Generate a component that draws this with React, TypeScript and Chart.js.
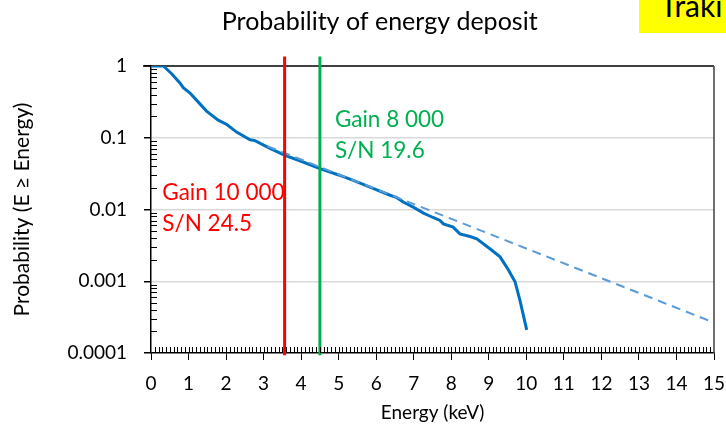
import React, { useEffect, useRef } from "react";
import { Chart, registerables } from "chart.js";

Chart.register(...registerables);

// Measured curve: P(E >= Energy)
const ENERGY_KEV = [0, 0.33, 0.55, 0.77, 0.86, 1.04, 1.2, 1.48, 1.79, 2.02, 2.28, 2.64, 2.77, 3.17, 3.57, 4.0, 4.5, 5.0, 5.39, 5.9, 6.37, 6.55, 6.72, 7.0, 7.26, 7.5, 7.7, 7.79, 8.05, 8.23, 8.5, 8.68, 9.03, 9.3, 9.52, 9.7, 9.83, 10.01];
const PROBABILITY = [1, 1, 0.78, 0.58, 0.5, 0.42, 0.34, 0.235, 0.176, 0.153, 0.12, 0.0938, 0.0912, 0.0713, 0.0568, 0.047, 0.0372, 0.0303, 0.0254, 0.0198, 0.0158, 0.0146, 0.0127, 0.0107, 0.0089, 0.0078, 0.00705, 0.0063, 0.00569, 0.00457, 0.0042, 0.00389, 0.00284, 0.00219, 0.00145, 0.00098, 0.00054, 0.00021];

// Exponential fit (dashed)
const FIT_KEV = [3.1, 15];
const FIT_PROBABILITY = [0.0762, 0.000265];

// Threshold markers
const THRESHOLD_KEV = [3.56, 4.5];
const THRESHOLD_COLORS = ["#FF0000", "#00B050"];
const THRESHOLD_SPAN = [1.36, 0.000093];

// Annotations
const NOTE_KEV = [0.3, 4.9];
const NOTE_LINE1_P = [0.0134, 0.139];
const NOTE_LINE2_P = [0.00495, 0.0515];
const NOTE_LINES = [
  ["Gain 10 000", "S/N 24.5"],
  ["Gain 8 000", "S/N 19.6"],
];

const TITLE = "Probability of energy deposit";
const X_TITLE = "Energy (keV)";
const Y_TITLE = "Probability (E ≥ Energy)";

const X_MIN = 0;
const X_MAX = 15;
const Y_TICK_VALUES = [0.0001, 0.001, 0.01, 0.1, 1];
const Y_TICK_LABELS = ["0.0001", "0.001", "0.01", "0.1", "1"];

const FONT = "Lato";

const framePlugin = {
  id: "frameAndMinor",
  beforeDatasetsDraw(chart: any) {
    const { ctx, chartArea } = chart;
    ctx.save();
    ctx.lineWidth = 1.5;
    ctx.strokeStyle = "#000";
    ctx.beginPath();
    ctx.moveTo(chartArea.left - 8, chartArea.top);
    ctx.lineTo(chartArea.right, chartArea.top);
    ctx.stroke();
    ctx.strokeStyle = "#404040";
    ctx.beginPath();
    ctx.moveTo(chartArea.right, chartArea.top);
    ctx.lineTo(chartArea.right, chartArea.bottom);
    ctx.stroke();
    ctx.restore();
  },
  afterDraw(chart: any) {
    const { ctx, chartArea, scales } = chart;
    const x = scales.x;
    const y = scales.y;
    ctx.save();
    ctx.strokeStyle = "#000";
    ctx.lineWidth = 1;
    ctx.beginPath();
    for (let i = 1; i < (X_MAX - X_MIN) * 10; i++) {
      const px = Math.round(x.getPixelForValue(X_MIN + i / 10)) + 0.5;
      ctx.moveTo(px, chartArea.bottom);
      ctx.lineTo(px, chartArea.bottom - 6);
    }
    for (let d = 0; d < Y_TICK_VALUES.length - 1; d++) {
      for (let m = 2; m <= 9; m++) {
        const py = Math.round(y.getPixelForValue(Y_TICK_VALUES[d] * m)) + 0.5;
        ctx.moveTo(chartArea.left, py);
        ctx.lineTo(chartArea.left + 6, py);
      }
    }
    ctx.stroke();
    // chart title
    ctx.fillStyle = "#000";
    ctx.font = `25px ${FONT}`;
    ctx.textAlign = "center";
    ctx.textBaseline = "middle";
    ctx.fillText(TITLE, chart.width * 0.523, 22);
    ctx.restore();
  },
  afterDatasetsDraw(chart: any) {
    const { ctx, scales } = chart;
    ctx.save();
    ctx.font = `22.5px ${FONT}`;
    ctx.textBaseline = "alphabetic";
    ctx.textAlign = "left";
    NOTE_LINES.forEach((lines, i) => {
      ctx.fillStyle = THRESHOLD_COLORS[i];
      const px = scales.x.getPixelForValue(NOTE_KEV[i]);
      ctx.fillText(lines[0], px, scales.y.getPixelForValue(NOTE_LINE1_P[i]));
      ctx.fillText(lines[1], px, scales.y.getPixelForValue(NOTE_LINE2_P[i]));
    });
    ctx.restore();
  },
};

export default function App() {
  const canvasRef = useRef<HTMLCanvasElement | null>(null);

  useEffect(() => {
    if (!canvasRef.current) return;
    const curve = ENERGY_KEV.map((e, i) => ({ x: e, y: PROBABILITY[i] }));
    const fit = FIT_KEV.map((e, i) => ({ x: e, y: FIT_PROBABILITY[i] }));
    const markers = THRESHOLD_KEV.map((e, i) => ({
      type: "line" as const,
      data: THRESHOLD_SPAN.map((p) => ({ x: e, y: p })),
      borderColor: THRESHOLD_COLORS[i],
      borderWidth: 3,
      pointRadius: 0,
      clip: false as any,
      order: i,
    }));
    const chart = new Chart(canvasRef.current, {
      type: "line",
      data: {
        datasets: [
          ...markers,
          {
            data: fit,
            borderColor: "#5B9BD5",
            borderWidth: 2,
            borderDash: [9, 6],
            pointRadius: 0,
            order: 2,
          },
          {
            data: curve,
            borderColor: "#0070C0",
            borderWidth: 3,
            pointRadius: 0,
            tension: 0,
            order: 3,
          },
        ] as any,
      },
      options: {
        animation: false,
        responsive: false,
        devicePixelRatio: 1,
        layout: { padding: { top: 66, left: 0, right: 12, bottom: 0 } },
        plugins: {
          legend: { display: false },
          tooltip: { enabled: false },
          title: { display: false },
        },
        scales: {
          x: {
            type: "linear",
            min: X_MIN,
            max: X_MAX,
            afterFit: (s: any) => {
              s.height = 82;
              s.paddingLeft = 0;
              s.paddingRight = 0;
            },
            ticks: {
              stepSize: 1,
              color: "#000",
              padding: 12,
              font: { family: FONT, size: 19 },
            },
            grid: {
              drawOnChartArea: false,
              drawTicks: true,
              tickLength: 7,
              color: "#000",
              tickColor: "#000",
            },
            border: { display: true, color: "#000", width: 1.5 },
            title: {
              display: true,
              text: X_TITLE,
              color: "#000",
              font: { family: FONT, size: 19 },
              padding: { top: 11, bottom: 11 },
            },
          },
          y: {
            type: "logarithmic",
            min: 0.0001,
            max: 1,
            afterFit: (s: any) => {
              s.width = 151;
              s.paddingTop = 0;
              s.paddingBottom = 0;
            },
            afterBuildTicks: (s: any) => {
              s.ticks = Y_TICK_VALUES.map((v) => ({ value: v, major: true }));
            },
            ticks: {
              color: "#000",
              padding: 17,
              font: { family: FONT, size: 19 },
              callback: (v: any) => {
                const i = Y_TICK_VALUES.indexOf(Number(v));
                return i >= 0 ? Y_TICK_LABELS[i] : "";
              },
            },
            grid: {
              drawTicks: true,
              tickLength: 7,
              lineWidth: 1.5,
              color: (c: any) =>
                c.tick && (c.tick.value === 1 || c.tick.value === 0.0001)
                  ? "rgba(0,0,0,0)"
                  : "#D9D9D9",
              tickColor: "#000",
            },
            border: { display: true, color: "#000", width: 1.5 },
            title: {
              display: true,
              text: Y_TITLE,
              color: "#000",
              font: { family: FONT, size: 21 },
              padding: { top: 10, bottom: 10 },
            },
          },
        },
      },
      plugins: [framePlugin],
    });
    return () => chart.destroy();
  }, []);

  return (
    <div style={{ position: "fixed", left: 0, top: 0, width: 726, height: 435, background: "#fff" }}>
      <canvas ref={canvasRef} width={726} height={435} style={{ width: 726, height: 435, display: "block" }} />
      <div
        style={{
          position: "absolute",
          left: 639,
          top: 0,
          width: 87,
          height: 33,
          background: "#FFFF00",
          overflow: "hidden",
        }}
      >
        <span
          style={{
            position: "absolute",
            left: 21,
            top: -12,
            fontFamily: FONT,
            fontSize: 30,
            lineHeight: "34px",
            color: "#000",
            whiteSpace: "nowrap",
          }}
        >
          Traki
        </span>
      </div>
    </div>
  );
}
